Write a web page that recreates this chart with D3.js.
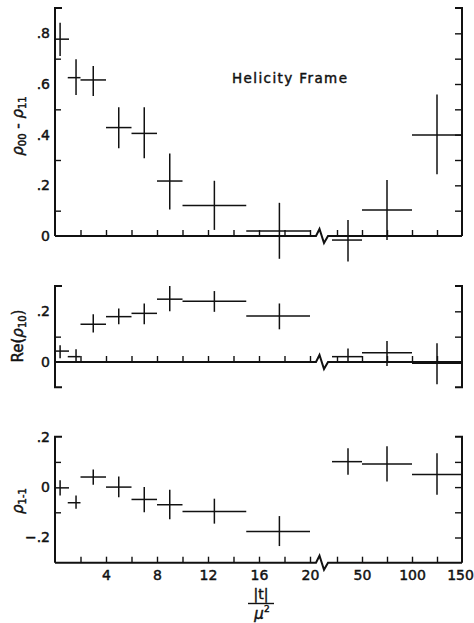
<!DOCTYPE html>
<html>
<head>
<meta charset="utf-8">
<script src="https://cdn.jsdelivr.net/npm/d3@7"></script>
<style>
  body { margin: 0; background: #fff; }
  svg { display: block; }
  text { font-family: "DejaVu Sans", "Liberation Sans", sans-serif; fill: #111; stroke: #111; stroke-width: 0.45px; }
</style>
</head>
<body>
<svg id="chart" width="474" height="623"></svg>
<script>
// |t|/mu^2 bins (first 8 on the 0-20 linear part, last 3 after the break)
const binLo  = [0, 1, 2, 4, 6, 8, 10, 15, 20, 50, 100];
const binHi  = [1.1, 2, 4, 6, 8, 10, 15, 20, 50, 100, 150];
const binMid = [0.4, 1.65, 3, 5, 7, 9, 12.5, 17.6, 36, 75, 125];
const binSeg = ['L','L','L','L','L','L','L','L','R','R','R'];

const rhoDiff   = [0.777, 0.625, 0.616, 0.428, 0.405, 0.217, 0.120, 0.020, -0.016, 0.103, 0.399];
const rhoDiffLo = [0.711, 0.557, 0.553, 0.346, 0.307, 0.105, 0.024, -0.090, -0.101, -0.016, 0.244];
const rhoDiffHi = [0.842, 0.698, 0.671, 0.508, 0.508, 0.326, 0.218, 0.131, 0.063, 0.221, 0.559];

const reRho10   = [0.043, 0.021, 0.149, 0.179, 0.192, 0.248, 0.240, 0.182, 0.021, 0.036, -0.003];
const reRho10Lo = [0.015, 0.000, 0.116, 0.149, 0.149, 0.200, 0.198, 0.129, 0.004, -0.016, -0.088];
const reRho10Hi = [0.066, 0.050, 0.188, 0.211, 0.231, 0.300, 0.280, 0.231, 0.053, 0.083, 0.074];

const rho1m1    = [-0.003, -0.062, 0.040, 0.000, -0.049, -0.070, -0.097, -0.176, 0.101, 0.092, 0.050];
const rho1m1Lo  = [-0.033, -0.086, 0.009, -0.040, -0.100, -0.128, -0.145, -0.234, 0.049, 0.022, -0.030];
const rho1m1Hi  = [0.027, -0.033, 0.070, 0.042, 0.000, -0.011, -0.046, -0.115, 0.154, 0.162, 0.134];

const xTicksL = [2, 4, 6, 8, 10, 12, 14, 16, 18, 20];
const xTicksR = [25, 50, 75, 100, 125];
const xLabelsL = [4, 8, 12, 16, 20];
const xLabelsR = [50, 100, 150];

let svg = d3.select('#chart');
let xL = d3.scaleLinear().domain([0, 20]).range([55, 310]);
let xR = d3.scaleLinear().domain([20, 150]).range([332, 462]);
let xs = (i, v) => binSeg[i] == 'R' ? xR(v) : xL(v);

let panels = [
    {y: rhoDiff, lo: rhoDiffLo, hi: rhoDiffHi, domain: [0, 0.9], range: [236, 8],
     labels: [0, 0.2, 0.4, 0.6, 0.8], minor: [0.1, 0.3, 0.5, 0.7], all: d3.range(1, 9).map(d => d/10), axisAt: 0},
    {y: reRho10, lo: reRho10Lo, hi: reRho10Hi, domain: [-0.1, 0.3], range: [387.3, 286],
     labels: [0, 0.2], minor: [0.1], all: [0, 0.1, 0.2], axisAt: 0},
    {y: rho1m1, lo: rho1m1Lo, hi: rho1m1Hi, domain: [-0.3, 0.2], range: [562.7, 436.7],
     labels: [-0.2, 0, 0.2], minor: [-0.1, 0.1], all: [-0.2, -0.1, 0, 0.1], axisAt: -0.3}
];

let fmt = d => d == 0 ? '0' : d3.format('.1f')(d).replace('0.', '.');

panels.forEach((p, k) => {
    let y = d3.scaleLinear().domain(p.domain).range(p.range);
    let g = svg.append('g');
    let top = p.range[1], bot = p.range[0];

    // left and right frame lines with end caps
    g.append('path')
        .attr('d', 'M62,' + top + 'H55V' + bot + (k == 1 ? 'H62' : ''))
        .attr('fill', 'none').attr('stroke', '#111').attr('stroke-width', 2);
    g.append('path')
        .attr('d', 'M455,' + top + 'H462V' + bot + (k == 1 ? 'H455' : ''))
        .attr('fill', 'none').attr('stroke', '#111').attr('stroke-width', 2);

    let minorAxis = d3.axisRight(y).tickValues(p.minor).tickSize(6).tickFormat('');
    g.append('g').attr('transform', 'translate(55,0)').call(minorAxis);
    let rightAxis = d3.axisLeft(y).tickValues(p.all).tickSize(7).tickFormat('');
    g.append('g').attr('transform', 'translate(462,0)').call(rightAxis);
    let labelAxis = d3.axisLeft(y).tickValues(p.labels).tickSize(0).tickPadding(5).tickFormat(fmt);
    g.append('g').attr('class', 'ylab').attr('transform', 'translate(55,0)').call(labelAxis);

    // x axis with a break between 20 and the compressed high-|t| region
    let ya = y(p.axisAt);
    g.append('path')
        .attr('d', 'M55,' + ya + 'H316L319.5,' + (ya-7) + 'L324,' + (ya+7) + 'L328,' + ya + 'H462')
        .attr('fill', 'none').attr('stroke', '#111').attr('stroke-width', 2);
    g.append('g').attr('transform', 'translate(0,' + ya + ')')
        .call(d3.axisTop(xL).tickValues(xTicksL).tickSize(6).tickFormat(''));
    g.append('g').attr('transform', 'translate(0,' + ya + ')')
        .call(d3.axisTop(xR).tickValues(xTicksR).tickSize(6).tickFormat(''));

    // error crosses
    p.y.forEach((v, i) => {
        g.append('line')
            .attr('x1', xs(i, binLo[i])).attr('x2', xs(i, binHi[i]))
            .attr('y1', y(v)).attr('y2', y(v))
            .attr('stroke', '#111').attr('stroke-width', k == 1 && i == 10 ? 2.6 : 1.5);
        g.append('line')
            .attr('x1', xs(i, binMid[i])).attr('x2', xs(i, binMid[i]))
            .attr('y1', y(p.hi[i])).attr('y2', y(p.lo[i]))
            .attr('stroke', '#111').attr('stroke-width', 1.5);
    });

    if(k == 2){
        g.append('g').attr('class', 'xlab').attr('transform', 'translate(0,' + ya + ')')
            .call(d3.axisBottom(xL).tickValues(xLabelsL).tickSize(0).tickPadding(7));
        g.append('g').attr('class', 'xlab xlabR').attr('transform', 'translate(0,' + ya + ')')
            .call(d3.axisBottom(xR).tickValues(xLabelsR).tickSize(0).tickPadding(7));
    }
});

svg.selectAll('.domain').remove();
svg.selectAll('.tick line').attr('stroke', '#111').attr('stroke-width', 1.4);
svg.selectAll('.ylab text, .xlab text')
    .attr('font-size', 14).attr('fill', '#111')
    .attr('font-family', '"DejaVu Sans", sans-serif');
svg.selectAll('.xlabR .tick:last-of-type text').attr('dx', -2);

svg.append('text')
    .attr('x', 232).attr('y', 83)
    .attr('font-size', 13.5).attr('letter-spacing', 1.4)
    .text('Helicity Frame');

// y titles
let t1 = svg.append('text').attr('transform', 'translate(23,126) rotate(-90)')
    .attr('text-anchor', 'middle').attr('font-size', 15);
t1.append('tspan').attr('font-style', 'italic').text('ρ');
t1.append('tspan').attr('font-size', 10).attr('dy', 3).text('00');
t1.append('tspan').attr('dy', -3).text(' - ');
t1.append('tspan').attr('font-style', 'italic').text('ρ');
t1.append('tspan').attr('font-size', 10).attr('dy', 3).text('11');

let t2 = svg.append('text').attr('transform', 'translate(23,336) rotate(-90)')
    .attr('text-anchor', 'middle').attr('font-size', 15);
t2.append('tspan').text('Re(');
t2.append('tspan').attr('font-style', 'italic').text('ρ');
t2.append('tspan').attr('font-size', 10).attr('dy', 3).text('10');
t2.append('tspan').attr('dy', -3).text(')');

let t3 = svg.append('text').attr('transform', 'translate(23,501) rotate(-90)')
    .attr('text-anchor', 'middle').attr('font-size', 15);
t3.append('tspan').attr('font-style', 'italic').text('ρ');
t3.append('tspan').attr('font-size', 10).attr('dy', 3).text('1-1');

// x title as a fraction
svg.append('text').attr('x', 261).attr('y', 599).attr('text-anchor', 'middle')
    .attr('font-size', 14).text('|t|');
svg.append('line').attr('x1', 248).attr('x2', 274).attr('y1', 603.5).attr('y2', 603.5)
    .attr('stroke', '#111').attr('stroke-width', 1.4);
let mu = svg.append('text').attr('x', 262).attr('y', 619).attr('text-anchor', 'middle')
    .attr('font-size', 15);
mu.append('tspan').attr('font-style', 'italic').text('μ');
mu.append('tspan').attr('font-size', 9).attr('dy', -7).text('2');
</script>
</body>
</html>
